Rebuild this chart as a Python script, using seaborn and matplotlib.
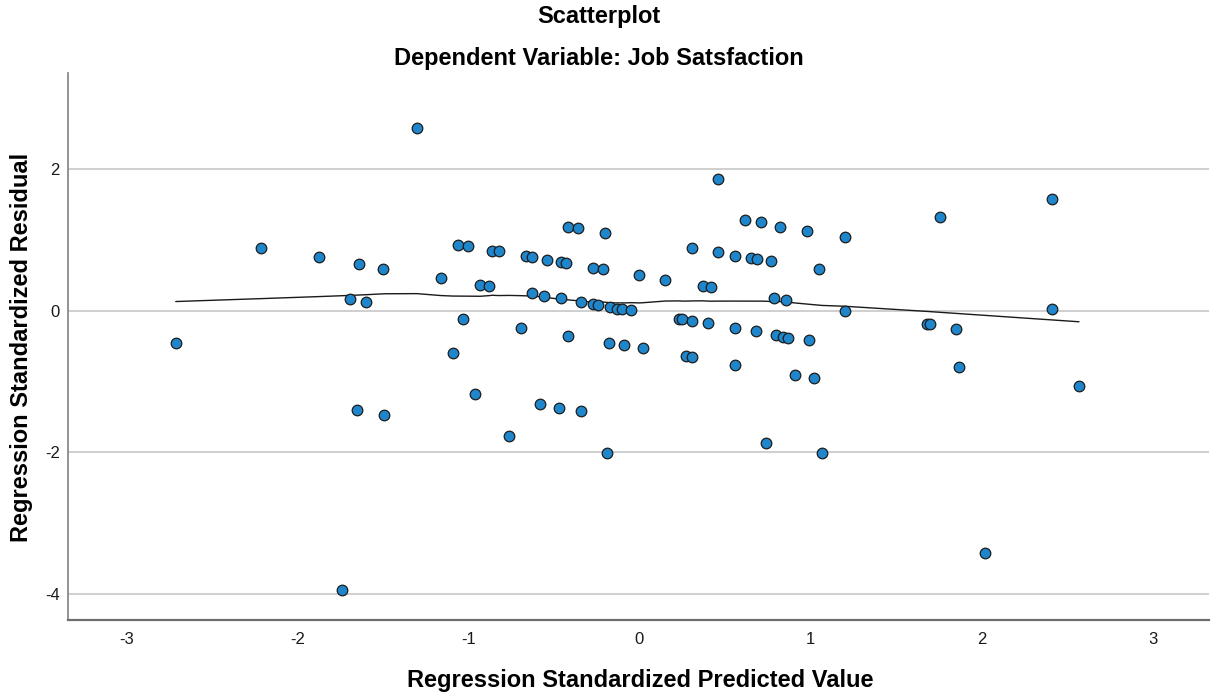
"""
Residual scatterplot (SPSS style) with a loess fit line.
"""

import numpy as np
import pandas as pd
import matplotlib
matplotlib.use("Agg")
import matplotlib.pyplot as plt
import seaborn as sns

# ---------------------------------------------------------------------------
# Data
# ---------------------------------------------------------------------------
pred_value = [
    -2.71, -2.21, -1.87, -1.74, -1.69, -1.65, -1.64, -1.60, -1.50, -1.49,
    -1.30, -1.16, -1.09, -1.06, -1.03, -1.00, -0.96, -0.93, -0.88, -0.86,
    -0.82, -0.76, -0.69, -0.66, -0.63, -0.63, -0.58, -0.56, -0.54, -0.47,
    -0.46, -0.46, -0.43, -0.42, -0.42, -0.36, -0.34, -0.34, -0.27, -0.27,
    -0.24, -0.21, -0.20, -0.19, -0.18, -0.17, -0.13, -0.10, -0.09, -0.05,
    0.00, 0.02, 0.15, 0.23, 0.25, 0.27, 0.31, 0.31, 0.31, 0.37,
    0.40, 0.42, 0.46, 0.46, 0.56, 0.56, 0.56, 0.62, 0.65, 0.68,
    0.69, 0.71, 0.74, 0.77, 0.79, 0.80, 0.82, 0.84, 0.86, 0.87,
    0.91, 0.98, 0.99, 1.02, 1.05, 1.07, 1.20, 1.20, 1.68, 1.70,
    1.76, 1.85, 1.87, 2.02, 2.41, 2.41, 2.57,
]
residual = [
    -0.45, 0.89, 0.76, -3.95, 0.16, -1.40, 0.66, 0.13, 0.59, -1.47,
    2.58, 0.46, -0.60, 0.93, -0.11, 0.91, -1.17, 0.37, 0.35, 0.85,
    0.84, -1.77, -0.25, 0.77, 0.76, 0.25, -1.32, 0.21, 0.72, -1.37,
    0.69, 0.18, 0.68, 1.19, -0.36, 1.17, 0.12, -1.42, 0.61, 0.09,
    0.08, 0.59, 1.10, -2.01, -0.45, 0.06, 0.03, 0.02, -0.49, 0.005,
    0.50, -0.52, 0.44, -0.11, -0.12, -0.64, -0.14, -0.66, 0.89, 0.35,
    -0.17, 0.33, 1.86, 0.83, 0.78, -0.25, -0.76, 1.28, 0.75, -0.29,
    0.73, 1.25, -1.87, 0.70, 0.18, -0.34, 1.19, -0.37, 0.15, -0.38,
    -0.91, 1.13, -0.42, -0.95, 0.59, -2.01, 1.04, 0.00, -0.19, -0.19,
    1.32, -0.26, -0.79, -3.43, 1.58, 0.03, -1.07,
]

x_ticks = [-3, -2, -1, 0, 1, 2, 3]
y_ticks = [-4, -2, 0, 2]

TITLE = "Scatterplot"
SUBTITLE = "Dependent Variable: Job Satsfaction"
X_LABEL = "Regression Standardized Predicted Value"
Y_LABEL = "Regression Standardized Residual"

POINT_COLOR = "#1f86cc"
EDGE_COLOR = "#1c1c1c"
W, H = 1211, 698


def loess_fit(x, y, frac=0.5, iterations=3):
    """Robust local linear fit, Epanechnikov kernel over the nearest frac of points."""
    x = np.asarray(x, dtype=float)
    y = np.asarray(y, dtype=float)
    order = np.argsort(x)
    xs, ys = x[order], y[order]
    n = len(xs)
    k = int(np.ceil(frac * n))
    robust = np.ones(n)
    fitted = np.zeros(n)
    for _ in range(iterations + 1):
        for i, x0 in enumerate(xs):
            d = np.abs(xs - x0)
            h = np.sort(d)[k - 1] * 1.0001
            u = d / h
            w = np.where(u < 1, 0.75 * (1 - u ** 2), 0.0) * robust
            xm = np.sum(w * xs) / w.sum()
            ym = np.sum(w * ys) / w.sum()
            b = np.sum(w * (xs - xm) * (ys - ym)) / np.sum(w * (xs - xm) ** 2)
            fitted[i] = ym + b * (x0 - xm)
        res = ys - fitted
        s = np.median(np.abs(res))
        r = np.clip(res / (6 * s), -1, 1)
        robust = (1 - r ** 2) ** 2
    return xs, fitted


df = pd.DataFrame({"pred": pred_value, "resid": residual})

sns.set_style("white")
plt.rcParams["font.family"] = ["Liberation Sans", "DejaVu Sans"]
plt.rcParams["axes.unicode_minus"] = False

fig = plt.figure(figsize=(W / 100, H / 100), dpi=100)
ax = fig.add_axes([68 / W, 1 - 620 / H, (1209 - 68) / W, (620 - 73) / H])

ax.grid(axis="y", color="#cccccc", linewidth=1.3)
ax.set_axisbelow(True)

lx, ly = loess_fit(df["pred"], df["resid"], frac=0.5)
ax.plot(lx, ly, color="#1a1a1a", linewidth=1.0, zorder=2)

sns.scatterplot(
    data=df, x="pred", y="resid", ax=ax,
    color=POINT_COLOR, edgecolor=EDGE_COLOR, linewidth=0.9, s=58, zorder=3,
)

ax.set_xlim(-3.34, 3.33)
ax.set_ylim(-4.37, 3.36)
ax.set_xticks(x_ticks)
ax.set_yticks(y_ticks)
ax.tick_params(axis="x", length=0, pad=9, labelsize=12, labelcolor="#1a1a1a")
ax.tick_params(axis="y", length=4, width=1, color="#cccccc", pad=2,
               labelsize=12, labelcolor="#1a1a1a")

for side in ["top", "right"]:
    ax.spines[side].set_visible(False)
ax.spines["left"].set_color("#8a8a8a")
ax.spines["left"].set_linewidth(1.3)
ax.spines["bottom"].set_color("#6e6e6e")
ax.spines["bottom"].set_linewidth(1.6)

ax.set_xlabel(X_LABEL, fontsize=17, fontweight="bold", color="black")
ax.xaxis.label.set_va("baseline")
ax.xaxis.set_label_coords(640 / W, 1 - 687 / H, transform=fig.transFigure)

ax.set_ylabel(Y_LABEL, fontsize=17, fontweight="bold", color="black")
ax.yaxis.label.set_va("center")
ax.yaxis.set_label_coords(22 / W, 1 - 347 / H, transform=fig.transFigure)

fig.text(599 / W, 1 - 23.5 / H, TITLE, ha="center", va="baseline",
         fontsize=17, fontweight="bold", color="black")
fig.text(598.5 / W, 1 - 65 / H, SUBTITLE, ha="center", va="baseline",
         fontsize=17, fontweight="bold", color="black")

fig.savefig("out.png", dpi=100)
